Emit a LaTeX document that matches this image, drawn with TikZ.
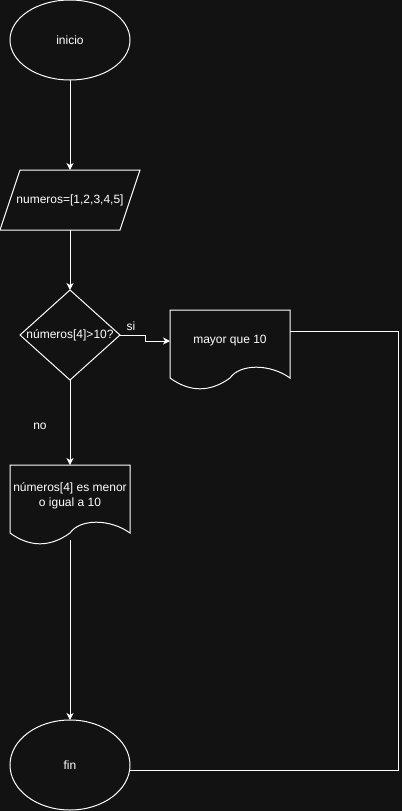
\documentclass[tikz,border=0pt]{standalone}
\usepackage{fontspec}
\setmainfont{Liberation Sans}
\usetikzlibrary{positioning,calc,shapes.geometric,arrows.meta}
\definecolor{bgdark}{RGB}{18,18,18}

\begin{document}
\begin{tikzpicture}[x=1pt, y=-1pt, line width=1pt, white, >={Stealth[length=7pt,width=7pt,inset=2pt]}]
	\fill[bgdark] (0,0) rectangle (402,811);
	\useasboundingbox (0,0) rectangle (402,811);
	\tikzstyle{every node}=[align=center, inner sep=1pt, outer sep=0pt, text=white, font=\fontsize{12}{15}\selectfont]
	\tikzstyle{term}=[draw, ellipse, minimum width=120pt, minimum height=80pt]

	\node[term] (inicio) at (70,40) {inicio};
	\node[minimum width=120pt, minimum height=60pt] (nums) at (70,200) {numeros=[1,2,3,4,5]};
	\node[draw, diamond, minimum width=100pt, minimum height=90pt, label={center:números[4]>10?}] (cond) at (70,335) {};
	\node[minimum width=120pt, minimum height=62pt] (mayor) at (230,341) {mayor que 10};
	\node[minimum width=120pt, minimum height=62pt] (menor) at (70,496) {números[4] es menor\\o igual a 10};
	\node[term, minimum height=90pt] (fin) at (70,765) {fin};
	\node (si) at (131,326) {si};
	\node (no) at (40,426) {no};
	\coordinate (turn) at (398,770);

	% data box
	\draw ($(nums.north west)+(10,0)$) -- ($(nums.north east)+(10,0)$) -- ($(nums.south east)+(-10,0)$) -- ($(nums.south west)+(-10,0)$) -- cycle;
	% document boxes
	\draw (mayor.north west) -- (mayor.north east) -- ($(mayor.north east)+(0,68)$)
		.. controls ($(mayor.north west)+(100,53.6)$) and ($(mayor.north west)+(70,53.6)$) .. ($(mayor.north west)+(60,68)$)
		.. controls ($(mayor.north west)+(40,82.4)$) and ($(mayor.north west)+(20,82.4)$) .. ($(mayor.north west)+(0,68)$) -- cycle;
	\draw (menor.north west) -- (menor.north east) -- ($(menor.north east)+(0,68)$)
		.. controls ($(menor.north west)+(100,53.6)$) and ($(menor.north west)+(70,53.6)$) .. ($(menor.north west)+(60,68)$)
		.. controls ($(menor.north west)+(40,82.4)$) and ($(menor.north west)+(20,82.4)$) .. ($(menor.north west)+(0,68)$) -- cycle;

	\draw[->] (inicio) to (nums);
	\draw[->] (nums) to (cond);
	\draw[->] (cond.east) -- ++(25,0) |- (mayor.west);
	\draw[->] (cond) to (menor);
	\draw[->] ($(menor.north)+(0,75)$) to (fin);
	\draw ($(mayor.north east)+(0,21)$) -| (turn) -- ($(fin.east)+(0,5)$);
\end{tikzpicture}
\end{document}
